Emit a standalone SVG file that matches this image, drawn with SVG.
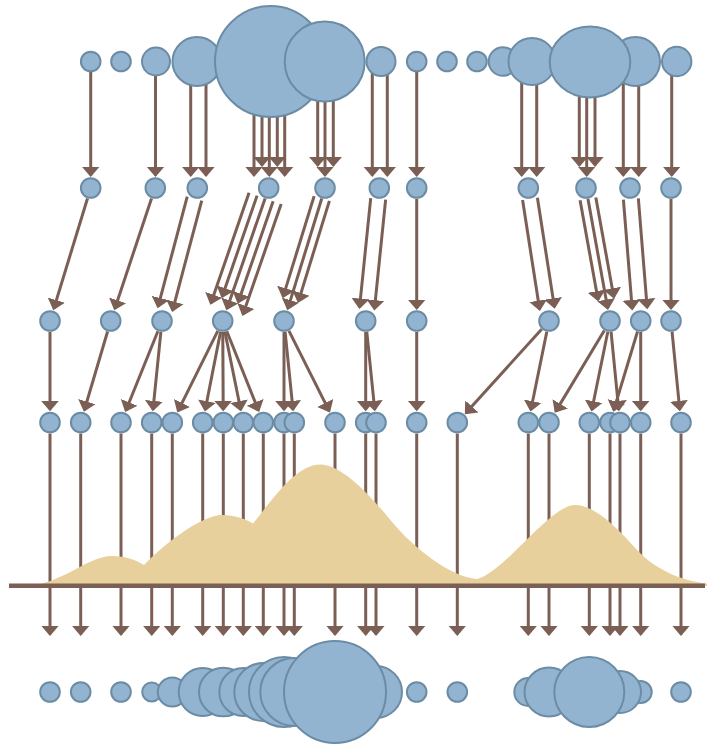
<svg xmlns="http://www.w3.org/2000/svg" width="707" height="745" viewBox="0 0 707 745">
  <style>
    .n { fill: #93b4d1; stroke: #6b8ca4; stroke-width: 2; }
    .e { stroke: #7b5f55; stroke-width: 3; fill: none; marker-end: url(#ah); }
    .axis { stroke: #7b5f55; stroke-width: 4.5; }
    .dens { fill: #e8d09c; }
  </style>
  <defs>
    <marker id="ah" markerUnits="userSpaceOnUse" markerWidth="12" markerHeight="20" viewBox="0 -10 12 20" refX="8.75" refY="0" orient="auto">
      <path d="M0,-9 L10.5,0 L0,9 Z" fill="#7b5f55"/>
    </marker>
  </defs>
  <rect width="707" height="745" fill="#ffffff"/>

  <g id="connectors">
    <!-- level 1 to level 2 -->
    <line class="e" x1="90.7" y1="61.5" x2="90.7" y2="175.3"/>
    <line class="e" x1="155.5" y1="61.5" x2="155.5" y2="175.3"/>
    <line class="e" x1="190.7" y1="61.5" x2="190.7" y2="175.3"/>
    <line class="e" x1="206" y1="61.5" x2="206" y2="175.3"/>
    <line class="e" x1="254" y1="61.5" x2="254" y2="175.3"/>
    <line class="e" x1="262" y1="61.5" x2="262" y2="165.3"/>
    <line class="e" x1="269.3" y1="61.5" x2="269.3" y2="175.3"/>
    <line class="e" x1="277.3" y1="61.5" x2="277.3" y2="165.3"/>
    <line class="e" x1="284.7" y1="61.5" x2="284.7" y2="175.3"/>
    <line class="e" x1="317.7" y1="61.5" x2="317.7" y2="165.3"/>
    <line class="e" x1="325" y1="61.5" x2="325" y2="175.3"/>
    <line class="e" x1="333.3" y1="61.5" x2="333.3" y2="165.3"/>
    <line class="e" x1="372.3" y1="61.5" x2="372.3" y2="175.3"/>
    <line class="e" x1="387.3" y1="61.5" x2="387.3" y2="175.3"/>
    <line class="e" x1="416.7" y1="61.5" x2="416.7" y2="175.3"/>
    <line class="e" x1="521.7" y1="61.5" x2="521.7" y2="175.3"/>
    <line class="e" x1="536.7" y1="61.5" x2="536.7" y2="175.3"/>
    <line class="e" x1="579.3" y1="61.5" x2="579.3" y2="165.3"/>
    <line class="e" x1="586.7" y1="61.5" x2="586.7" y2="175.3"/>
    <line class="e" x1="595" y1="61.5" x2="595" y2="165.3"/>
    <line class="e" x1="623.3" y1="61.5" x2="623.3" y2="175.3"/>
    <line class="e" x1="638.7" y1="61.5" x2="638.7" y2="175.3"/>
    <line class="e" x1="671.7" y1="61.5" x2="671.7" y2="175.3"/>

    <!-- level 2 to level 3 -->
    <line class="e" x1="87.48" y1="198.52" x2="53.80" y2="308.57"/>
    <line class="e" x1="151.52" y1="198.44" x2="114.81" y2="308.67"/>
    <line class="e" x1="187.23" y1="196.71" x2="158.08" y2="306.51"/>
    <line class="e" x1="201.73" y1="200.55" x2="172.58" y2="310.35"/>
    <line class="e" x1="249.04" y1="192.84" x2="210.89" y2="303.15"/>
    <line class="e" x1="257.07" y1="195.62" x2="222.19" y2="296.48"/>
    <line class="e" x1="265.10" y1="198.40" x2="226.95" y2="308.71"/>
    <line class="e" x1="273.13" y1="201.18" x2="238.25" y2="302.04"/>
    <line class="e" x1="281.16" y1="203.96" x2="243.01" y2="314.27"/>
    <line class="e" x1="314.12" y1="196.15" x2="283.14" y2="296.66"/>
    <line class="e" x1="321.76" y1="198.51" x2="287.83" y2="308.58"/>
    <line class="e" x1="329.40" y1="200.87" x2="298.42" y2="301.38"/>
    <line class="e" x1="370.72" y1="198.18" x2="359.56" y2="307.31"/>
    <line class="e" x1="385.64" y1="199.70" x2="374.48" y2="308.83"/>
    <line class="e" x1="416.7" y1="199" x2="416.7" y2="308.3"/>
    <line class="e" x1="522.58" y1="200.02" x2="539.59" y2="309.30"/>
    <line class="e" x1="537.40" y1="197.72" x2="554.41" y2="307.00"/>
    <line class="e" x1="580.08" y1="200.25" x2="598.04" y2="299.79"/>
    <line class="e" x1="587.95" y1="198.83" x2="607.69" y2="308.21"/>
    <line class="e" x1="595.82" y1="197.41" x2="613.78" y2="296.95"/>
    <line class="e" x1="623.40" y1="199.56" x2="632.18" y2="308.64"/>
    <line class="e" x1="638.36" y1="198.36" x2="647.14" y2="307.44"/>
    <line class="e" x1="671" y1="199" x2="671" y2="308.3"/>

    <!-- level 3 to level 4 -->
    <line class="e" x1="50" y1="332" x2="50" y2="409.5"/>
    <line class="e" x1="107.58" y1="331.55" x2="84.38" y2="410.03"/>
    <line class="e" x1="157.88" y1="331.20" x2="125.87" y2="410.45"/>
    <line class="e" x1="160.89" y1="331.94" x2="153.01" y2="409.57"/>
    <line class="e" x1="217.81" y1="330.85" x2="178.08" y2="410.86"/>
    <line class="e" x1="220.57" y1="331.79" x2="205.21" y2="409.75"/>
    <line class="e" x1="222.77" y1="332" x2="223.22" y2="409.5"/>
    <line class="e" x1="224.89" y1="331.78" x2="240.71" y2="409.76"/>
    <line class="e" x1="226.79" y1="331.21" x2="258.47" y2="410.43"/>
    <line class="e" x1="284" y1="332" x2="284" y2="409.5"/>
    <line class="e" x1="285.11" y1="331.94" x2="292.99" y2="409.57"/>
    <line class="e" x1="288.94" y1="330.83" x2="329.16" y2="410.88"/>
    <line class="e" x1="365.7" y1="332" x2="365.7" y2="409.5"/>
    <line class="e" x1="366.81" y1="331.94" x2="374.69" y2="409.57"/>
    <line class="e" x1="416.7" y1="332" x2="416.7" y2="409.5"/>
    <line class="e" x1="541.63" y1="329.16" x2="466.02" y2="412.85"/>
    <line class="e" x1="546.80" y1="331.78" x2="530.90" y2="409.76"/>
    <line class="e" x1="604.33" y1="330.43" x2="555.70" y2="411.36"/>
    <line class="e" x1="607.80" y1="331.78" x2="591.90" y2="409.76"/>
    <line class="e" x1="611.08" y1="331.95" x2="618.73" y2="409.56"/>
    <line class="e" x1="637.52" y1="331.53" x2="613.76" y2="410.06"/>
    <line class="e" x1="640.7" y1="332" x2="640.7" y2="409.5"/>
    <line class="e" x1="672.08" y1="331.95" x2="679.73" y2="409.56"/>

    <!-- level 4 down through the axis -->
    <line class="e" x1="50" y1="433.5" x2="50" y2="634.25"/>
    <line class="e" x1="80.7" y1="433.5" x2="80.7" y2="634.25"/>
    <line class="e" x1="121" y1="433.5" x2="121" y2="634.25"/>
    <line class="e" x1="151.7" y1="433.5" x2="151.7" y2="634.25"/>
    <line class="e" x1="172.3" y1="433.5" x2="172.3" y2="634.25"/>
    <line class="e" x1="202.7" y1="433.5" x2="202.7" y2="634.25"/>
    <line class="e" x1="223.3" y1="433.5" x2="223.3" y2="634.25"/>
    <line class="e" x1="243.3" y1="433.5" x2="243.3" y2="634.25"/>
    <line class="e" x1="263.3" y1="433.5" x2="263.3" y2="634.25"/>
    <line class="e" x1="284" y1="433.5" x2="284" y2="634.25"/>
    <line class="e" x1="294.3" y1="433.5" x2="294.3" y2="634.25"/>
    <line class="e" x1="335" y1="433.5" x2="335" y2="634.25"/>
    <line class="e" x1="365.7" y1="433.5" x2="365.7" y2="634.25"/>
    <line class="e" x1="376" y1="433.5" x2="376" y2="634.25"/>
    <line class="e" x1="416.7" y1="433.5" x2="416.7" y2="634.25"/>
    <line class="e" x1="457.3" y1="433.5" x2="457.3" y2="634.25"/>
    <line class="e" x1="528.3" y1="433.5" x2="528.3" y2="634.25"/>
    <line class="e" x1="549" y1="433.5" x2="549" y2="634.25"/>
    <line class="e" x1="589.3" y1="433.5" x2="589.3" y2="634.25"/>
    <line class="e" x1="610" y1="433.5" x2="610" y2="634.25"/>
    <line class="e" x1="620" y1="433.5" x2="620" y2="634.25"/>
    <line class="e" x1="640.7" y1="433.5" x2="640.7" y2="634.25"/>
    <line class="e" x1="681" y1="433.5" x2="681" y2="634.25"/>
  </g>

  <!-- density curve and baseline -->
  <path class="dens" d="M36,585 C65,580 90,556 112,556 C126,556 136,560 144,565 C160,548 200,515 222,515 C235,515 245,519 253,523.5 C270,503 295,464.5 320,464.5 C345,464.5 377,504 393,523 C413,547 450,577 477,579 C505,572 550,505 575,505 C598,505 624,536 640,553 C655,568 680,581 707,583.5 L707,586 L36,586 Z"/>
  <line class="axis" x1="9" y1="585.8" x2="705" y2="585.8"/>

  <!-- level 1 -->
  <g id="t1"><circle class="n" cx="90.7" cy="61.5" r="9.8"/></g>
  <g id="t2"><circle class="n" cx="121" cy="61.5" r="9.8"/></g>
  <g id="t3"><circle class="n" cx="156" cy="61.5" r="14"/></g>
  <g id="t4"><circle class="n" cx="197" cy="61.5" r="24.5"/></g>
  <g id="t5"><circle class="n" cx="270.5" cy="61.5" r="55.5"/></g>
  <g id="t6"><circle class="n" cx="324.7" cy="61.5" r="40"/></g>
  <g id="t7"><circle class="n" cx="381" cy="61.5" r="14.5"/></g>
  <g id="t8"><circle class="n" cx="416.7" cy="61.5" r="9.8"/></g>
  <g id="t9"><circle class="n" cx="447" cy="61.5" r="9.8"/></g>
  <g id="t10"><circle class="n" cx="477" cy="61.5" r="9.8"/></g>
  <g id="t11"><circle class="n" cx="503" cy="61.5" r="14.3"/></g>
  <g id="t12"><circle class="n" cx="532" cy="61.5" r="23.5"/></g>
  <g id="t13"><circle class="n" cx="635.5" cy="61.5" r="24.5"/></g>
  <g id="t14"><circle class="n" cx="676.7" cy="61.5" r="14.7"/></g>
  <g id="t15"><ellipse class="n" cx="590" cy="62" rx="40.3" ry="35.5"/></g>

  <!-- level 2 -->
  <g id="a1"><circle class="n" cx="90.7" cy="188" r="9.8"/></g>
  <g id="a2"><circle class="n" cx="155.3" cy="188" r="9.8"/></g>
  <g id="a3"><circle class="n" cx="197.3" cy="188" r="9.8"/></g>
  <g id="a4"><circle class="n" cx="268.7" cy="188" r="9.8"/></g>
  <g id="a5"><circle class="n" cx="325" cy="188" r="9.8"/></g>
  <g id="a6"><circle class="n" cx="379.3" cy="188" r="9.8"/></g>
  <g id="a7"><circle class="n" cx="416.7" cy="188" r="9.8"/></g>
  <g id="a8"><circle class="n" cx="528.3" cy="188" r="9.8"/></g>
  <g id="a9"><circle class="n" cx="586" cy="188" r="9.8"/></g>
  <g id="a10"><circle class="n" cx="630" cy="188" r="9.8"/></g>
  <g id="a11"><circle class="n" cx="671" cy="188" r="9.8"/></g>

  <!-- level 3 -->
  <g id="b1"><circle class="n" cx="50" cy="321" r="9.8"/></g>
  <g id="b2"><circle class="n" cx="110.7" cy="321" r="9.8"/></g>
  <g id="b3"><circle class="n" cx="162" cy="321" r="9.8"/></g>
  <g id="b4"><circle class="n" cx="222.7" cy="321" r="9.8"/></g>
  <g id="b5"><circle class="n" cx="284" cy="321" r="9.8"/></g>
  <g id="b6"><circle class="n" cx="365.7" cy="321" r="9.8"/></g>
  <g id="b7"><circle class="n" cx="416.7" cy="321" r="9.8"/></g>
  <g id="b8"><circle class="n" cx="549" cy="321" r="9.8"/></g>
  <g id="b9"><circle class="n" cx="610" cy="321" r="9.8"/></g>
  <g id="b10"><circle class="n" cx="640.7" cy="321" r="9.8"/></g>
  <g id="b11"><circle class="n" cx="671" cy="321" r="9.8"/></g>

  <!-- level 4 -->
  <g id="c1"><circle class="n" cx="50" cy="422.5" r="9.8"/></g>
  <g id="c2"><circle class="n" cx="80.7" cy="422.5" r="9.8"/></g>
  <g id="c3"><circle class="n" cx="121" cy="422.5" r="9.8"/></g>
  <g id="c4"><circle class="n" cx="151.7" cy="422.5" r="9.8"/></g>
  <g id="c5"><circle class="n" cx="172.3" cy="422.5" r="9.8"/></g>
  <g id="c6"><circle class="n" cx="202.7" cy="422.5" r="9.8"/></g>
  <g id="c7"><circle class="n" cx="223.3" cy="422.5" r="9.8"/></g>
  <g id="c8"><circle class="n" cx="243.3" cy="422.5" r="9.8"/></g>
  <g id="c9"><circle class="n" cx="263.3" cy="422.5" r="9.8"/></g>
  <g id="c10"><circle class="n" cx="284" cy="422.5" r="9.8"/></g>
  <g id="c11"><circle class="n" cx="294.3" cy="422.5" r="9.8"/></g>
  <g id="c12"><circle class="n" cx="335" cy="422.5" r="9.8"/></g>
  <g id="c13"><circle class="n" cx="365.7" cy="422.5" r="9.8"/></g>
  <g id="c14"><circle class="n" cx="376" cy="422.5" r="9.8"/></g>
  <g id="c15"><circle class="n" cx="416.7" cy="422.5" r="9.8"/></g>
  <g id="c16"><circle class="n" cx="457.3" cy="422.5" r="9.8"/></g>
  <g id="c17"><circle class="n" cx="528.3" cy="422.5" r="9.8"/></g>
  <g id="c18"><circle class="n" cx="549" cy="422.5" r="9.8"/></g>
  <g id="c19"><circle class="n" cx="589.3" cy="422.5" r="9.8"/></g>
  <g id="c20"><circle class="n" cx="610" cy="422.5" r="9.8"/></g>
  <g id="c21"><circle class="n" cx="620" cy="422.5" r="9.8"/></g>
  <g id="c22"><circle class="n" cx="640.7" cy="422.5" r="9.8"/></g>
  <g id="c23"><circle class="n" cx="681" cy="422.5" r="9.8"/></g>

  <!-- bottom row, sized circles -->
  <g id="d1"><circle class="n" cx="50" cy="692" r="9.8"/></g>
  <g id="d2"><circle class="n" cx="80.7" cy="692" r="9.8"/></g>
  <g id="d3"><circle class="n" cx="121" cy="692" r="9.8"/></g>
  <g id="d4"><circle class="n" cx="151.7" cy="692" r="9.5"/></g>
  <g id="d16"><circle class="n" cx="416.7" cy="692" r="9.8"/></g>
  <g id="d17"><circle class="n" cx="457.3" cy="692" r="9.8"/></g>
  <g id="d24"><circle class="n" cx="681" cy="692" r="9.8"/></g>
  <g id="d23"><circle class="n" cx="640.7" cy="692" r="11"/></g>
  <g id="d5"><circle class="n" cx="172.3" cy="692" r="14.5"/></g>
  <g id="d18"><circle class="n" cx="528.3" cy="692" r="14"/></g>
  <g id="d21"><circle class="n" cx="610" cy="692" r="21"/></g>
  <g id="d22"><circle class="n" cx="620" cy="692" r="21"/></g>
  <g id="d6"><circle class="n" cx="202.7" cy="692" r="24"/></g>
  <g id="d7"><circle class="n" cx="223.3" cy="692" r="24.3"/></g>
  <g id="d8"><circle class="n" cx="243.3" cy="692" r="24"/></g>
  <g id="d19"><circle class="n" cx="549" cy="692" r="24.5"/></g>
  <g id="d14"><circle class="n" cx="365.7" cy="692" r="25"/></g>
  <g id="d15"><circle class="n" cx="376" cy="692" r="26"/></g>
  <g id="d9"><circle class="n" cx="263.3" cy="692" r="29"/></g>
  <g id="d10"><circle class="n" cx="284" cy="692" r="35"/></g>
  <g id="d11"><circle class="n" cx="294.3" cy="692" r="34"/></g>
  <g id="d20"><circle class="n" cx="589.3" cy="692" r="35"/></g>
  <g id="d12"><circle class="n" cx="335" cy="692" r="51"/></g>
</svg>
